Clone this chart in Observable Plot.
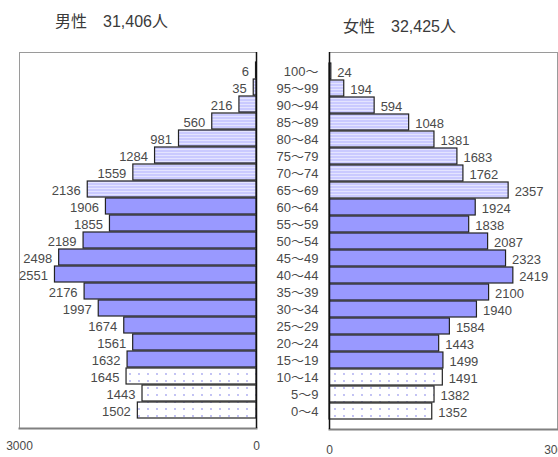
<!DOCTYPE html>
<html>
<head>
<meta charset="utf-8">
<script src="https://cdn.jsdelivr.net/npm/d3@7"></script>
<script src="https://cdn.jsdelivr.net/npm/@observablehq/plot@0.6"></script>
<style>
  html, body { margin: 0; padding: 0; background: #fff; overflow: hidden; }
  #wrap { position: relative; width: 558px; height: 457px; overflow: hidden; font-family: "Liberation Sans", "Noto Sans CJK JP", sans-serif; }
  .title { position: absolute; font-size: 16px; color: #3a3a3a; white-space: pre; font-family: "Liberation Sans", "Noto Sans CJK JP", sans-serif; }
  .panel { position: absolute; top: 0; }
</style>
</head>
<body>
<svg width="0" height="0" style="position:absolute">
  <defs>
    <pattern id="stripes" patternUnits="userSpaceOnUse" width="8" height="3">
      <rect width="8" height="3" fill="#cacaff"/>
      <rect y="2" width="8" height="1" fill="#e4e4ff"/>
    </pattern>
    <pattern id="dots" patternUnits="userSpaceOnUse" width="9" height="7">
      <rect width="9" height="7" fill="#ffffff"/>
      <circle cx="4" cy="3" r="0.9" fill="#a8a8f0"/>
    </pattern>
  </defs>
</svg>
<div id="wrap">
  <div class="title" style="left:55px; top:8px;">男性　31,406人</div>
  <div class="title" style="left:343px; top:13px;">女性　32,425人</div>
  <div class="panel" id="left" style="left:0px;"></div>
  <div class="panel" id="right" style="left:250px;"></div>
</div>
<script>
const ages = ["0～4","5～9","10～14","15～19","20～24","25～29","30～34","35～39","40～44","45～49","50～54","55～59","60～64","65～69","70～74","75～79","80～84","85～89","90～94","95～99","100～"];
const male = [1502,1443,1645,1632,1561,1674,1997,2176,2551,2498,2189,1855,1906,2136,1559,1284,981,560,216,35,6];
const female = [1352,1382,1491,1499,1443,1584,1940,2100,2419,2323,2087,1838,1924,2357,1762,1683,1381,1048,594,194,24];
const groups = ["young","young","young","work","work","work","work","work","work","work","work","work","work","old","old","old","old","old","old","old","old"];
const xTicks = [0, 3000];

const rows = ages.map((a, i) => ({age: a, m: male[i], f: female[i], g: groups[i]}));
const topDown = ages.slice().reverse();
const fills = {young: "url(#dots)", work: "#9999ff", old: "url(#stripes)"};
const fontStyle = {background: "transparent", overflow: "visible", fontFamily: "'Liberation Sans', 'Noto Sans CJK JP', sans-serif", fontSize: "13px", color: "#4a4a4a"};

function bars(key) {
  return ["young", "work", "old"].map(g =>
    Plot.barX(rows.filter(d => d.g === g), {x: key, y: "age", fill: fills[g], stroke: "#222", strokeWidth: 1.2})
  );
}

const left = Plot.plot({
  width: 330, height: 457,
  marginLeft: 19, marginRight: 74, marginTop: 52, marginBottom: 29,
  x: {domain: [0, 3000], reverse: true, label: null},
  y: {domain: topDown, padding: 0.08, axis: null},
  style: fontStyle,
  marks: [
    Plot.frame({stroke: "#9a9a9a"}),
    Plot.frame({anchor: "bottom", stroke: "#808080", strokeWidth: 2}),
    ...bars("m"),
    Plot.ruleX([0], {stroke: "#111", strokeWidth: 1.5}),
    Plot.text(rows, {x: "m", y: "age", text: d => String(d.m), dx: -7, dy: 1, textAnchor: "end", fill: "#4a4a4a", fontSize: 13}),
    Plot.text(rows, {x: 0, y: "age", text: "age", dx: 62, dy: 1, textAnchor: "end", fill: "#4a4a4a", fontSize: 13}),
    Plot.axisX({ticks: xTicks, tickSize: 0, tickPadding: 13, label: null, tickFormat: d => String(d), fill: "#4a4a4a", fontSize: 12})
  ]
});

const right = Plot.plot({
  width: 308, height: 457,
  marginLeft: 79, marginRight: 1, marginTop: 52, marginBottom: 28,
  x: {domain: [0, 3000], label: null},
  y: {domain: topDown, padding: 0.08, axis: null},
  style: fontStyle,
  marks: [
    Plot.frame({stroke: "#9a9a9a"}),
    Plot.frame({anchor: "bottom", stroke: "#808080", strokeWidth: 2}),
    ...bars("f"),
    Plot.ruleX([0], {stroke: "#111", strokeWidth: 1.5}),
    Plot.text(rows, {x: "f", y: "age", text: d => String(d.f), dx: 6, dy: 1.5, textAnchor: "start", fill: "#4a4a4a", fontSize: 13}),
    Plot.axisX({ticks: xTicks, tickSize: 0, tickPadding: 16, label: null, tickFormat: d => String(d), fill: "#4a4a4a", fontSize: 12})
  ]
});

document.getElementById("left").appendChild(left);
document.getElementById("right").appendChild(right);
</script>
</body>
</html>
